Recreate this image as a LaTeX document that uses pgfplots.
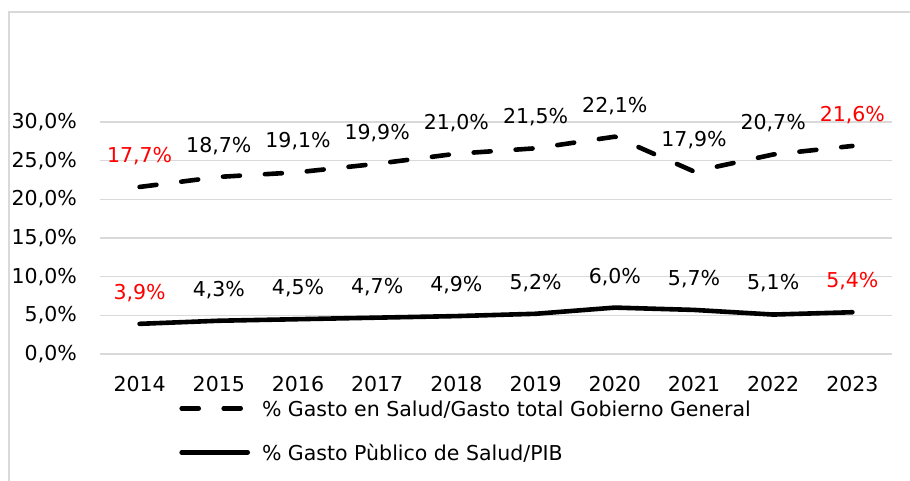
\documentclass[border=0pt]{standalone}
\usepackage{fontspec}
\setmainfont{DejaVu Sans}
\usepackage{pgfplots}
\pgfplotsset{compat=1.18}
\definecolor{gridgray}{HTML}{D9D9D9}
\definecolor{lblred}{HTML}{FF0000}
\begin{document}
\fontsize{20.5}{24}\selectfont
\begin{tikzpicture}[x=1pt,y=1pt]
\path[use as bounding box] (0,0) rectangle (910,481);
\draw[gridgray, line width=1.2pt] (9,0) -- (9,469) -- (910,469);
\begin{axis}[
  at={(100pt,127pt)}, anchor=south west,
  scale only axis, width=792pt, height=232pt,
  xmin=2013.5, xmax=2023.5, ymin=0, ymax=30,
  clip=false,
  axis line style={draw=none}, tick style={draw=none},
  ymajorgrids, grid style={gridgray, line width=1.2pt},
  ytick={0,5,10,15,20,25,30},
  yticklabel={\pgfmathprintnumber[fixed,fixed zerofill,precision=1,use comma]{\tick}\%},
  xtick={2014,2015,2016,2017,2018,2019,2020,2021,2022,2023},
  xticklabels={2014,2015,2016,2017,2018,2019,2020,2021,2022,2023},
  /pgf/number format/assume math mode=true,
  yticklabel style={anchor=east, inner sep=0pt, xshift=-23pt},
  xticklabel style={anchor=north, inner sep=0pt, yshift=-22pt},
  legend cell align=left,
  legend style={draw=none, fill=none, at={(axis description cs:0.1,-0.2)}, anchor=north west,
    row sep=28pt, inner sep=0pt, nodes={inner sep=0pt, text depth=0pt}},
  legend image code/.code={\draw[#1] (0pt,0pt) -- (66pt,0pt);},
  every node near coord/.style={anchor=center, yshift=31pt, text=black},
  point meta=explicit symbolic,
  nodes near coords,
]
\addplot[black, line width=4.6pt, line cap=round, line join=round,
  dash pattern=on 17pt off 25pt] coordinates {
  (2014,21.6) [\textcolor{lblred}{17,7\%}]
  (2015,22.9) [18,7\%]
  (2016,23.5) [19,1\%]
  (2017,24.6) [19,9\%]
  (2018,25.9) [21,0\%]
  (2019,26.6) [21,5\%]
  (2020,28.1) [22,1\%]
  (2021,23.6) [17,9\%]
  (2022,25.8) [20,7\%]
  (2023,26.9) [\textcolor{lblred}{21,6\%}]
};
\addlegendentry{\hspace{12pt}\% Gasto en Salud/Gasto total Gobierno General}
\addplot[black, line width=4.6pt, line cap=round, line join=round] coordinates {
  (2014,3.9) [\textcolor{lblred}{3,9\%}]
  (2015,4.3) [4,3\%]
  (2016,4.5) [4,5\%]
  (2017,4.7) [4,7\%]
  (2018,4.9) [4,9\%]
  (2019,5.2) [5,2\%]
  (2020,6.0) [6,0\%]
  (2021,5.7) [5,7\%]
  (2022,5.1) [5,1\%]
  (2023,5.4) [\textcolor{lblred}{5,4\%}]
};
\addlegendentry{\hspace{12pt}\% Gasto Pùblico de Salud/PIB}
\end{axis}
\end{tikzpicture}
\end{document}
